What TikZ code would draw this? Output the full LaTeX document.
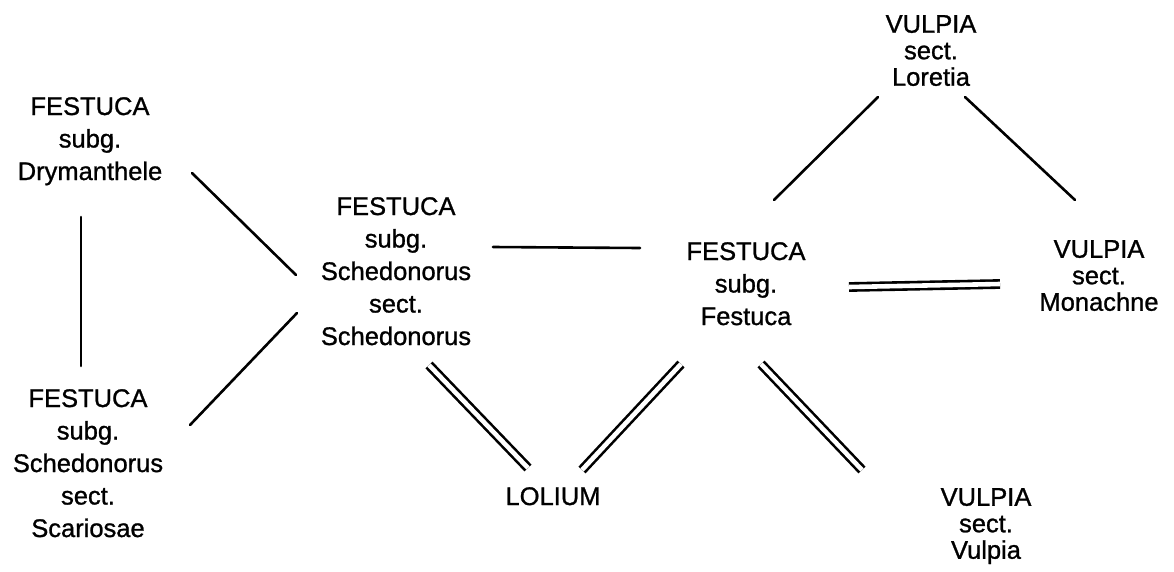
\documentclass[tikz,border=0pt]{standalone}
\usepackage{fontspec}
\setmainfont[FakeBold=1.0]{Liberation Sans}
\begin{document}
\begin{tikzpicture}[x=1pt,y=-1pt,
  lbl/.style={anchor=north,inner sep=0pt,align=center},
  fest/.style={lbl,font={\fontsize{25.5}{32.5}\selectfont}},
  vulp/.style={lbl,font={\fontsize{25.5}{26.5}\selectfont}},
  link/.style={line width=2.6pt,line cap=round},
  dlink/.style={double,double distance=4.6pt,line width=2.6pt}]
\useasboundingbox (0,0) rectangle (1174,571);
% nodes
\node[fest] (dry) at (90,97) {FESTUCA\\subg.\\Drymanthele};
\node[fest] (sca) at (88,389) {FESTUCA\\subg.\\Schedonorus\\sect.\\Scariosae};
\node[fest] (sch) at (396,197) {FESTUCA\\subg.\\Schedonorus\\sect.\\Schedonorus};
\node[fest] (fes) at (746,242) {FESTUCA\\subg.\\Festuca};
\node[vulp] (lor) at (931,15) {VULPIA\\sect.\\Loretia};
\node[vulp] (mon) at (1099,240) {VULPIA\\sect.\\Monachne};
\node[vulp] (vul) at (986,488) {VULPIA\\sect.\\Vulpia};
\node[fest] (lol) at (553,487) {LOLIUM};
% connector ends
\coordinate (dry-sch) at (192,173);
\coordinate (sch-dry) at (296,275);
\coordinate (sca-sch) at (190,425);
\coordinate (sch-sca) at (297,313);
\coordinate (dry-sca) at (81,217);
\coordinate (sca-dry) at (81,366);
\coordinate (sch-fes) at (493,247);
\coordinate (fes-sch) at (640,248);
\coordinate (fes-lor) at (774,200);
\coordinate (lor-fes) at (878,97);
\coordinate (lor-mon) at (965,97);
\coordinate (mon-lor) at (1075,200);
\coordinate (fes-mon) at (849,287);
\coordinate (mon-fes) at (1000,284);
\coordinate (sch-lol) at (429,365);
\coordinate (lol-sch) at (528,468);
\coordinate (lol-fes) at (582,470);
\coordinate (fes-lol) at (681,364);
\coordinate (fes-vul) at (761,364);
\coordinate (vul-fes) at (862,470);
% connectors
\draw[link] (dry-sch) -- (sch-dry);
\draw[link] (sca-sch) -- (sch-sca);
\draw[link] (dry-sca) -- (sca-dry);
\draw[link] (sch-fes) -- (fes-sch);
\draw[link] (fes-lor) -- (lor-fes);
\draw[link] (lor-mon) -- (mon-lor);
\draw[dlink] (fes-mon) -- (mon-fes);
\draw[dlink] (sch-lol) -- (lol-sch);
\draw[dlink] (lol-fes) -- (fes-lol);
\draw[dlink] (fes-vul) -- (vul-fes);
\end{tikzpicture}
\end{document}
